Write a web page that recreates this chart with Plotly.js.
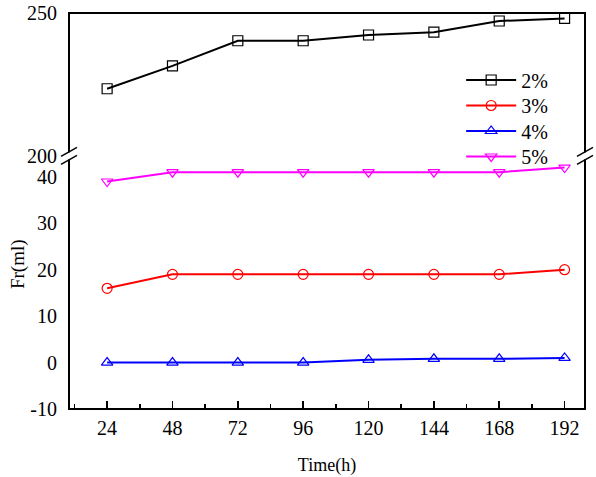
<!DOCTYPE html>
<html>
<head>
<meta charset="utf-8">
<script src="https://cdn.plot.ly/plotly-3.0.1.min.js"></script>
<style>html,body{margin:0;padding:0;background:#fff;}#chart{width:596px;height:477px;}</style>
</head>
<body>
<div id="chart"></div>
<script>
var time = [24, 48, 72, 96, 120, 144, 168, 192];
var s2 = [223.5, 231.5, 240.3, 240.3, 242.3, 243.3, 247.2, 248.1];
var s3 = [16, 19, 19, 19, 19, 19, 19, 20];
var s4 = [0, 0, 0, 0, 0.6, 0.8, 0.8, 1.0];
var s5 = [39, 41, 41, 41, 41, 41, 41, 42];
var names = ['2%', '3%', '4%', '5%'];
var xTicks = [24, 48, 72, 96, 120, 144, 168, 192];
var lowerTicks = [-10, 0, 10, 20, 30, 40];
var lowerTickText = ['-10', '0', '10', '20', '30', '40'];
var upperTicks = [200, 250];

var FONT = 'Liberation Serif';
var brk = 0.639; // fraction of plot height at the axis break

function tr(y, name, color, symbol, axis, leg) {
  return {
    x: time, y: y, name: name, type: 'scatter', mode: 'lines+markers',
    yaxis: axis, legend: leg, showlegend: true,
    line: {color: color, width: 2},
    marker: {symbol: symbol, size: 10, color: color, line: {color: color, width: 1.2}}
  };
}

var data = [
  tr(s2, names[0], '#000000', 'square-open', 'y2', 'legend'),
  tr(s3, names[1], '#ff0000', 'circle-open', 'y', 'legend2'),
  tr(s4, names[2], '#0000ff', 'triangle-up-open', 'y', 'legend3'),
  tr(s5, names[3], '#ff00ff', 'triangle-down-open', 'y', 'legend4')
];

function brkShapes(xp) {
  var out = [];
  out.push({type:'rect', xref:'paper', yref:'paper', xsizemode:'pixel', ysizemode:'pixel',
    xanchor: xp, yanchor: brk, x0:-3, x1:3, y0:-3.5, y1:3.5,
    fillcolor:'#ffffff', line:{width:0}, layer:'above'});
  [-4, 4].forEach(function(off){
    out.push({type:'line', xref:'paper', yref:'paper', xsizemode:'pixel', ysizemode:'pixel',
      xanchor: xp, yanchor: brk, x0:-8, x1:8, y0: off - 4.5, y1: off + 4.5,
      line:{color:'#000', width:1.5}, layer:'above'});
  });
  return out;
}

var shapes = [{type:'rect', xref:'paper', yref:'paper', x0:0, x1:1, y0:0, y1:1,
  line:{color:'#000', width:2}, fillcolor:'rgba(0,0,0,0)', layer:'above'}]
  .concat(brkShapes(0)).concat(brkShapes(1));

function leg(y) {
  return {x: 0.76, y: y, xanchor: 'left', yanchor: 'top', bgcolor: 'rgba(0,0,0,0)',
    font: {family: FONT, size: 20}, itemwidth: 50};
}

var layout = {
  width: 596, height: 477,
  margin: {l: 69, r: 11, t: 13, b: 68},
  paper_bgcolor: '#fff', plot_bgcolor: '#fff',
  font: {family: FONT, color: '#000', size: 20},
  showlegend: true,
  legend: leg(0.880), legend2: leg(0.8157), legend3: leg(0.7513), legend4: leg(0.6869),
  xaxis: {
    range: [10, 199.5], tickvals: xTicks, ticktext: xTicks.map(String),
    ticks: 'inside', ticklen: 8, tickwidth: 1.5, tickcolor: '#000',
    ticklabelstandoff: 5,
    showline: false, showgrid: false, zeroline: false,
    minor: {tick0: 0, dtick: 12, ticks: 'inside', ticklen: 5, tickwidth: 1.5, tickcolor: '#000', showgrid: false},
    tickfont: {family: FONT, size: 20},
    title: {text: 'Time(h)', font: {family: FONT, size: 18}, standoff: 20}
  },
  yaxis: {
    domain: [0, brk], range: [-10, 44.5], tickvals: lowerTicks, ticktext: lowerTickText,
    ticks: 'outside', ticklen: 7, tickcolor: 'rgba(0,0,0,0)',
    showgrid: false, zeroline: false, showline: false,
    tickfont: {family: FONT, size: 20}
  },
  yaxis2: {
    domain: [brk, 1], range: [200, 250], tickvals: upperTicks,
    ticks: 'outside', ticklen: 7, tickcolor: 'rgba(0,0,0,0)',
    showgrid: false, zeroline: false, showline: false,
    tickfont: {family: FONT, size: 20}
  },
  shapes: shapes,
  annotations: [{
    text: 'Fr(ml)', textangle: -90, xref: 'paper', yref: 'paper', x: 0, y: 0.366,
    xanchor: 'center', yanchor: 'middle', xshift: -51, showarrow: false,
    font: {family: FONT, size: 19}
  }]
};

Plotly.newPlot('chart', data, layout, {displayModeBar: false, staticPlot: true});
</script>
</body>
</html>
